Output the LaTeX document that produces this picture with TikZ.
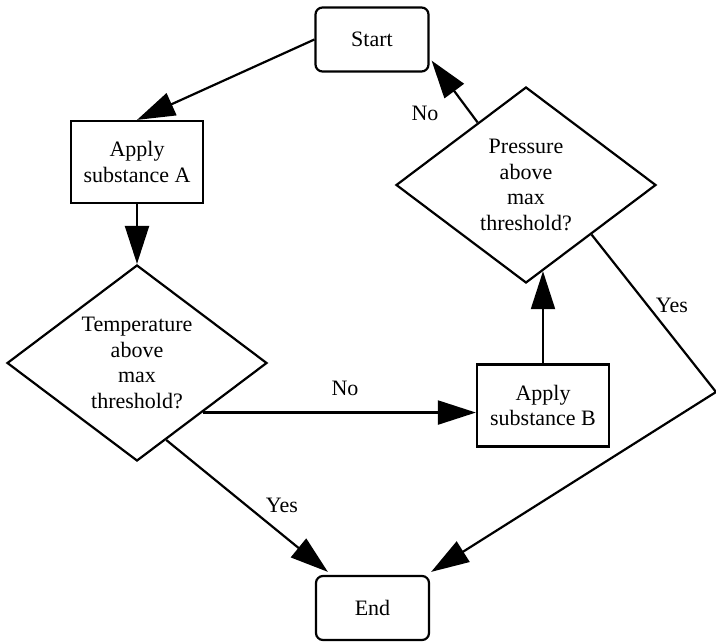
\documentclass[tikz,border=0pt]{standalone}
\usepackage{fontspec}
\setmainfont{Liberation Serif}
\usetikzlibrary{arrows.meta,shapes.geometric,calc}
\begin{document}
\begin{tikzpicture}[x=1pt,y=-1pt,
  line width=2.2pt,
  every node/.style={font=\fontsize{22}{25.5}\selectfont},
  term/.style={draw, rounded corners=7pt, minimum width=113pt, minimum height=64pt, inner sep=0pt},
  proc/.style={draw, minimum width=132pt, minimum height=82pt, align=center, inner sep=0pt},
  decision/.style={draw, diamond, aspect=1.33, minimum width=260pt, minimum height=196pt, inner sep=0pt, align=center},
  flow/.style={-{Triangle[length=38pt,width=24pt]}},
  lbl/.style={inner sep=0pt}
]
\useasboundingbox (0,0) rectangle (716,642);
\node[term] (S) at (372,39.5) {Start};
\node[proc] (A) at (137,162) {Apply\\substance A};
\node[decision] (T) at (137,363) {Temperature\\above\\max\\threshold?};
\node[proc] (B) at (543,405.5) {Apply\\substance B};
\node[decision] (P) at (526,185) {Pressure\\above\\max\\threshold?};
\node[term] (E) at (372.5,608) {End};

\draw[flow] (S.west) -- (A.north);
\draw[flow] (A.south) -- (T.north);

\coordinate (tno) at ($(T.east)!0.5!(T.south)$);
\draw[flow] (tno) -- (tno -| B.west);
\node[lbl] (lno1) at (345,388) {No};

\coordinate (tyes) at ($(T.east)!0.777!(T.south)$);
\draw[flow] (tyes) -- ($(E.north west)+(13,-3)$);
\node[lbl] (lyes1) at (282,505) {Yes};

\coordinate (pin) at ($(P.south)!0.13!(P.east)$);
\draw[flow] (B.north) -- (B.north |- pin);

\coordinate (pno) at ($(P.north)!0.369!(P.west)$);
\draw[flow] (pno) -- ($(S.south east)+(2,-12)$);
\node[lbl] (lno2) at (425,113) {No};

\coordinate (pyes) at ($(P.east)!0.5!(P.south)$);
\coordinate (bend) at (716,392);
\draw[flow] (pyes) -- (bend) -- ($(E.north east)+(1,-3)$);
\node[lbl] (lyes2) at (672,305) {Yes};
\end{tikzpicture}
\end{document}
